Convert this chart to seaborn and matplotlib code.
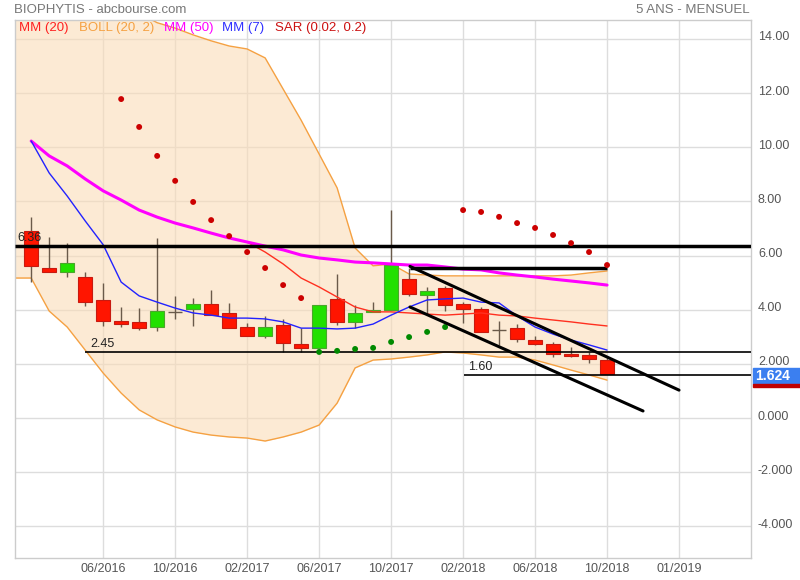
import numpy as np
import pandas as pd
import seaborn as sns
import matplotlib
matplotlib.use("Agg")
import matplotlib.pyplot as plt
from matplotlib.patches import Rectangle
from matplotlib.transforms import blended_transform_factory, ScaledTranslation

# monthly candles, index 0 = 02/2016 ... 32 = 10/2018
opens = [6.91, 5.54, 5.39, 5.21, 4.36, 3.58, 3.55, 3.36, 3.90, 4.03, 4.21, 3.88, 3.36,
         3.03, 3.44, 2.73, 2.59, 4.40, 3.55, 3.92, 3.99, 5.13, 4.54, 4.80, 4.21, 4.03,
         3.25, 3.32, 2.88, 2.73, 2.36, 2.33, 2.14]
closes = [5.62, 5.39, 5.73, 4.28, 3.58, 3.47, 3.32, 3.95, 3.90, 4.21, 3.80, 3.32, 3.03,
          3.36, 2.77, 2.59, 4.17, 3.55, 3.88, 3.99, 5.65, 4.58, 4.69, 4.17, 4.03, 3.18,
          3.25, 2.92, 2.73, 2.36, 2.29, 2.18, 1.624]
highs = [7.42, 6.69, 6.46, 5.39, 4.99, 4.10, 4.06, 6.65, 4.51, 4.43, 4.73, 4.25, 3.51,
         3.77, 3.66, 3.32, 4.17, 5.32, 4.17, 4.28, 7.68, 5.54, 4.84, 4.88, 4.28, 4.10,
         3.58, 3.47, 3.03, 2.81, 2.62, 2.44, 2.22]
lows = [5.02, 5.39, 5.21, 4.14, 3.40, 3.36, 3.25, 3.21, 3.66, 3.40, 3.80, 3.32, 3.03,
        2.96, 2.44, 2.44, 2.51, 3.44, 3.32, 3.92, 3.99, 4.51, 3.84, 3.95, 3.51, 3.18,
        2.70, 2.81, 2.70, 2.25, 2.25, 2.03, 1.62]

mm7 = [10.23, 9.05, 8.20, 7.28, 6.40, 5.02, 4.51, 4.28, 4.06, 3.88, 3.80, 3.69, 3.69,
       3.66, 3.55, 3.32, 3.32, 3.29, 3.32, 3.47, 3.80, 4.10, 4.36, 4.40, 4.43, 4.28,
       4.25, 3.77, 3.36, 3.10, 2.88, 2.70, 2.51]
mm50 = [10.23, 9.68, 9.31, 8.83, 8.39, 8.05, 7.68, 7.42, 7.20, 7.02, 6.83, 6.65, 6.50,
        6.35, 6.21, 6.02, 5.91, 5.84, 5.76, 5.73, 5.69, 5.65, 5.65, 5.58, 5.50, 5.47,
        5.36, 5.28, 5.21, 5.13, 5.06, 4.99, 4.91]
# MM(20) visible from index 12 (hidden under MM(50) before)
mm20 = [6.50, 6.13, 5.69, 5.17, 4.84, 4.47, 4.10, 3.92, 3.92, 3.88, 3.84, 3.80, 3.84,
        3.88, 3.80, 3.77, 3.69, 3.62, 3.55, 3.47, 3.40]

# Bollinger bands, index -1 .. 32
boll_up = [15.6, 15.6, 15.6, 15.5, 15.4, 15.3, 15.2, 14.95, 14.6, 14.4, 14.15, 13.93,
           13.74, 13.63, 13.3, 12.15, 11.0, 9.75, 8.50, 6.28, 5.62, 5.69, 5.32, 5.28,
           5.25, 5.25, 5.25, 5.25, 5.25, 5.25, 5.25, 5.28, 5.36, 5.43]
boll_low = [5.17, 5.17, 3.95, 3.36, 2.51, 1.66, 0.92, 0.30, -0.07, -0.33, -0.52, -0.63,
            -0.70, -0.74, -0.85, -0.70, -0.52, -0.26, 0.55, 1.85, 2.14, 2.18, 2.25,
            2.33, 2.44, 2.40, 2.33, 2.25, 2.25, 2.14, 1.96, 1.77, 1.59, 1.40]

# parabolic SAR, index 5 .. 32
sar = [11.78, 10.75, 9.68, 8.76, 7.98, 7.31, 6.72, 6.13, 5.54, 4.91, 4.43,
       2.44, 2.48, 2.55, 2.59, 2.81, 2.99, 3.18, 3.36,
       7.68, 7.61, 7.43, 7.20, 7.02, 6.76, 6.46, 6.13, 5.65]
sar_side = ["haut"] * 11 + ["bas"] * 8 + ["haut"] * 9

tick_labels = ["06/2016", "10/2016", "02/2017", "06/2017", "10/2017",
               "02/2018", "06/2018", "10/2018", "01/2019"]
y_labels = ["-4.000", "-2.000", "0.000", "2.000", "4.00", "6.00", "8.00",
            "10.00", "12.00", "14.00"]

levels = [6.36, 2.45, 1.60]
level_start = [-0.9, 3.0, 24.05]
resistance = 5.54
channel_top = [5.60, 1.03]
channel_bottom = [4.10, 0.26]
last_price = 1.624

sns.set_theme(style="white")
plt.rcParams["font.family"] = ["Liberation Sans", "DejaVu Sans"]

fig = plt.figure(figsize=(8, 5.8), dpi=100)
ax = fig.add_axes([15 / 800, 22 / 580, 736 / 800, 538 / 580])

idx = np.arange(len(closes))
band_idx = np.arange(-1, len(closes))

ax.set_xlim(-0.9, 40.0)
ax.set_ylim(-5.17, 14.70)
ax.set_xticks(np.arange(4, 40, 4))
ax.set_xticklabels(tick_labels)
ax.set_yticks(np.arange(-4, 16, 2))
ax.set_yticklabels(y_labels)
ax.yaxis.tick_right()
ax.grid(True, color="#dddddd", lw=1)
ax.set_axisbelow(True)
for s in ax.spines.values():
    s.set_color("#cccccc")
    s.set_linewidth(1)
ax.tick_params(axis="both", length=0, colors="#555555", labelsize=9)
ax.tick_params(axis="y", pad=5)
for lab in ax.get_xticklabels():
    lab.set_family(["Liberation Sans Narrow", "Liberation Sans"])
# right-hand labels sit a little above their grid lines
lift = ScaledTranslation(0, 3 / 100, fig.dpi_scale_trans)
for lab in ax.get_yticklabels():
    lab.set_transform(lab.get_transform() + lift)

# bollinger
ax.fill_between(band_idx, boll_low, boll_up, color="#fbdcb8", alpha=0.6, lw=0, zorder=1)
sns.lineplot(x=band_idx, y=boll_up, color="#f5a142", lw=1, ax=ax, zorder=2)
sns.lineplot(x=band_idx, y=boll_low, color="#f5a142", lw=1, ax=ax, zorder=2)

# support / resistance levels
for lv, x0 in zip(levels, level_start):
    ax.hlines(lv, x0, 40.0, color="black", lw=2.5 if lv == 6.36 else 1.2, zorder=6)
ax.text(-0.78, 6.36 + 0.05, "6.36", fontsize=9, color="#222222", va="bottom", zorder=7)
ax.text(3.3, 2.45 + 0.05, "2.45", fontsize=9, color="#222222", va="bottom", zorder=7)
ax.text(24.3, 1.60 + 0.05, "1.60", fontsize=9, color="#222222", va="bottom", zorder=7)
ax.hlines(resistance, 21.05, 32, color="black", lw=2.5, zorder=6)

# candles
o = np.array(opens)
c = np.array(closes)
ax.vlines(idx, lows, highs, color="#6a5a4a", lw=1, zorder=3)
up = c > o + 0.02
down = c < o - 0.02
doji = ~(up | down)
ax.bar(idx[up], (c - o)[up], bottom=o[up], width=0.75, color="#22e000",
       edgecolor="#4aa62a", lw=0.8, zorder=4)
ax.bar(idx[down], (o - c)[down], bottom=c[down], width=0.75, color="#ff1500",
       edgecolor="#c81a10", lw=0.8, zorder=4)
ax.hlines(c[doji], idx[doji] - 0.4, idx[doji] + 0.4, color="#6a5a4a", lw=1, zorder=4)

# moving averages
sns.lineplot(x=np.arange(12, 12 + len(mm20)), y=mm20, color="#ff3020", lw=1, ax=ax, zorder=5)
sns.lineplot(x=idx, y=mm50, color="#ff00ff", lw=2.2, ax=ax, zorder=5)
sns.lineplot(x=idx, y=mm7, color="#2222ff", lw=1, ax=ax, zorder=5)

# SAR
sar_df = pd.DataFrame({"x": np.arange(5, 5 + len(sar)), "sar": sar, "side": sar_side})
sns.scatterplot(data=sar_df, x="x", y="sar", hue="side",
                palette={"haut": "#cc0000", "bas": "#008a00"},
                s=18, linewidth=0, legend=False, ax=ax, zorder=6)

# trend channel
ax.plot([21.05, 36.0], channel_top, color="black", lw=2.2, zorder=7)
ax.plot([21.05, 34.0], channel_bottom, color="black", lw=2.2, zorder=7)

ax.set_xlabel("")
ax.set_ylabel("")

# last price tag
tr = blended_transform_factory(ax.transAxes, ax.transData)
ax.add_patch(Rectangle((1.0027, 1.27), 0.064, 0.59, transform=tr, color="#3b7ff0",
                       clip_on=False, zorder=8))
ax.add_patch(Rectangle((1.0027, 1.15), 0.064, 0.12, transform=tr, color="#c00000",
                       clip_on=False, zorder=8))
ax.text(1.006, 1.565, f"{last_price:.3f}", transform=tr, color="white", fontsize=10,
        fontweight="bold", va="center", ha="left", clip_on=False, zorder=9)

# header + legend
fig.text(14 / 800, 1 - 10 / 580, "BIOPHYTIS - abcbourse.com", fontsize=9.5,
         color="#777777", va="center")
fig.text(750 / 800, 1 - 10 / 580, "5 ANS - MENSUEL", fontsize=9.5, color="#777777",
         va="center", ha="right")
legend_items = [("MM (20)", "#ff2020", 19), ("BOLL (20, 2)", "#f5a142", 79),
                ("MM (50)", "#ff00ff", 164), ("MM (7)", "#3030ff", 222),
                ("SAR (0.02, 0.2)", "#cc1111", 275)]
for name, col, px in legend_items:
    fig.text(px / 800, 1 - 28 / 580, name, fontsize=9.5, color=col, va="center")

fig.savefig("out.png", dpi=100)
